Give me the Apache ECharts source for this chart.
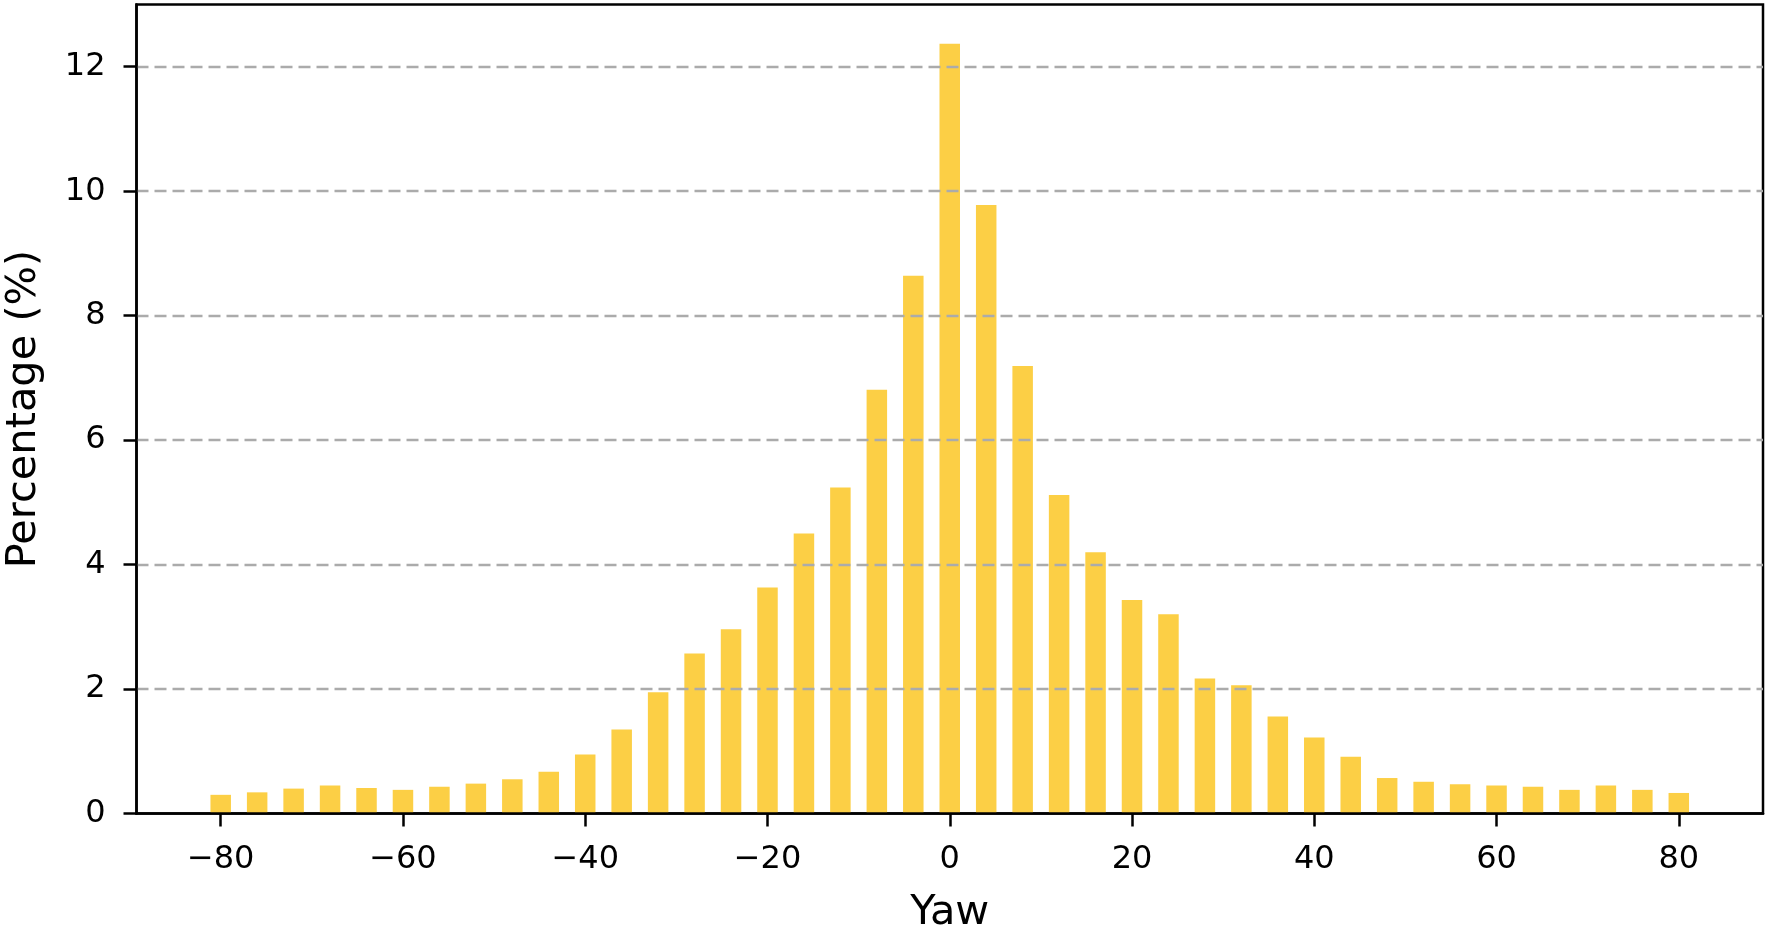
<!DOCTYPE html>
<html>
<head>
<meta charset="utf-8">
<script src="https://cdn.jsdelivr.net/npm/echarts@6/dist/echarts.min.js"></script>
<style>
html,body{margin:0;padding:0;background:#fff;}
#chart{width:1769px;height:928px;}
</style>
</head>
<body>
<div id="chart"></div>
<script>
const yawValues = [-80,-76,-72,-68,-64,-60,-56,-52,-48,-44,-40,-36,-32,-28,-24,-20,-16,-12,-8,-4,0,4,8,12,16,20,24,28,32,36,40,44,48,52,56,60,64,68,72,76,80];
const percentages = [0.30,0.34,0.40,0.45,0.41,0.38,0.43,0.48,0.55,0.67,0.95,1.35,1.95,2.57,2.96,3.63,4.50,5.24,6.81,8.64,12.37,9.78,7.19,5.12,4.20,3.43,3.20,2.17,2.06,1.56,1.22,0.91,0.57,0.51,0.47,0.45,0.43,0.38,0.45,0.38,0.33];
const xTickValues = [-80,-60,-40,-20,0,20,40,60,80];
const xAxisTitle = 'Yaw';
const yAxisTitle = 'Percentage (%)';

const font = 'DejaVu Sans';
const chart = echarts.init(document.getElementById('chart'), null, {renderer:'canvas'});
chart.setOption({
  animation:false,
  backgroundColor:'#ffffff',
  grid:{left:136.5,right:6,top:4.5,bottom:114.5,show:true,borderColor:'#000',borderWidth:2.5,backgroundColor:'transparent',containLabel:false,outerBoundsMode:'none'},
  xAxis:{
    type:'value', min:-89.24, max:89.24, z:6,
    name:xAxisTitle, nameLocation:'middle', nameGap:79, nameMoveOverlap:false,
    nameTextStyle:{fontFamily:font,fontSize:41.5,color:'#000'},
    axisLine:{show:true,onZero:false,lineStyle:{color:'#000',width:2.5}},
    axisTick:{show:true,length:13,lineStyle:{color:'#000',width:2.5},customValues:xTickValues},
    axisLabel:{fontFamily:font,fontSize:32,color:'#000',margin:30,customValues:xTickValues,
      formatter:v=>(v<0?'\u2212'+Math.abs(v):String(v))},
    splitLine:{show:false}
  },
  yAxis:{
    type:'value', min:0, max:13, interval:2, z:5,
    name:yAxisTitle, nameLocation:'middle', nameGap:91, nameRotate:90, nameMoveOverlap:false,
    nameTextStyle:{fontFamily:font,fontSize:41.5,color:'#000'},
    axisLine:{show:true,onZero:false,lineStyle:{color:'#000',width:2.5}},
    axisTick:{show:true,length:13,lineStyle:{color:'#000',width:2.5}},
    axisLabel:{fontFamily:font,fontSize:32,color:'#000',margin:31,showMaxLabel:false},
    splitLine:{show:true,showMinLine:false,showMaxLine:false,lineStyle:{color:'#ababab',width:2.4,type:[12,6]}}
  },
  series:[{
    type:'bar',
    barWidth:20.5,
    itemStyle:{color:'#FCCF45'},
    data:yawValues.map((x,i)=>[x,percentages[i]])
  }]
});
</script>
</body>
</html>
